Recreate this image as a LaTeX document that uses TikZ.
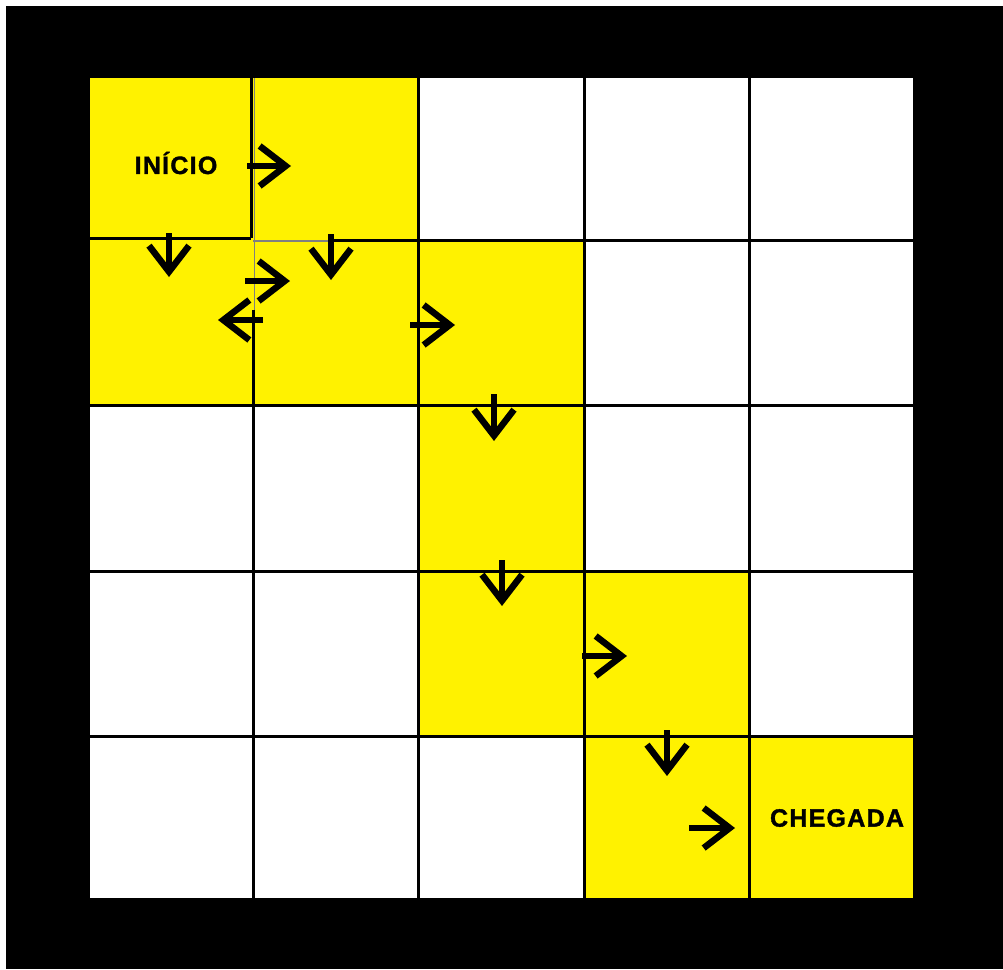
\documentclass[tikz,border=0pt]{standalone}
\usepackage{fontspec}
\setmainfont{Liberation Sans}
\usetikzlibrary{arrows.meta}
\definecolor{amarelo}{RGB}{255,242,0}
\tikzset{
  celula/.style={fill=amarelo},
  grade/.style={line width=3pt, draw=black},
  seta/.style={line width=6pt, -{Straight Barb[length=26pt,width=40pt,line width=6.5pt]}},
  rotulo/.style={font=\fontsize{25}{25}\selectfont\bfseries\addfontfeature{LetterSpace=5,FakeBold=1.5}, text=black, inner sep=0pt}
}
\begin{document}
\begin{tikzpicture}[x=1pt,y=-1pt]
\useasboundingbox (0,0) rectangle (1003,969);
\fill[white] (0,0) rectangle (1003,969);
\fill[black] (6,6) rectangle (1003,969);
% board
\fill[white] (90,78) rectangle (913,898);
% yellow path cells
\foreach \xa/\ya/\xb/\yb in {90/78/253/240, 253/78/418/240, 90/240/253/405, 253/240/418/405,
  418/240/584/405, 418/405/584/571, 418/571/584/736, 584/571/749/736, 584/736/749/898, 749/736/913/898}
  \fill[celula] (\xa,\ya) rectangle (\xb,\yb);
% grid lines
\foreach \x in {418,584,749} \draw[grade] (\x,78) -- (\x,898);
\draw[grade] (253,310) -- (253,898);
\draw[grade] (251,78) -- (251,238);
\draw[line width=1.5pt, gray] (254.5,78) -- (254.5,310);
\foreach \y in {405,571,736} \draw[grade] (90,\y) -- (913,\y);
\draw[grade] (90,238) -- (251,238);
\draw[grade] (328,240) -- (913,240);
\draw[line width=2pt, gray] (253,240.5) -- (328,240.5);
% labels
\node[rotulo] (inicio) at (176,163) {INÍCIO};
\node[rotulo] (chegada) at (837,818) {CHEGADA};
% arrows
\draw[seta] (247,166) -- (291,166);
\draw[seta] (169,233) -- (169,277);
\draw[seta] (331,234) -- (331,280);
\draw[seta] (245,281) -- (290,281);
\draw[seta] (263,320) -- (218,320);
\draw[seta] (410,325) -- (455,325);
\draw[seta] (494,394) -- (494,441);
\draw[seta] (502,560) -- (502,606);
\draw[seta] (582,656) -- (627,656);
\draw[seta] (667,730) -- (667,776);
\draw[seta] (689,828) -- (735,828);
\end{tikzpicture}
\end{document}
